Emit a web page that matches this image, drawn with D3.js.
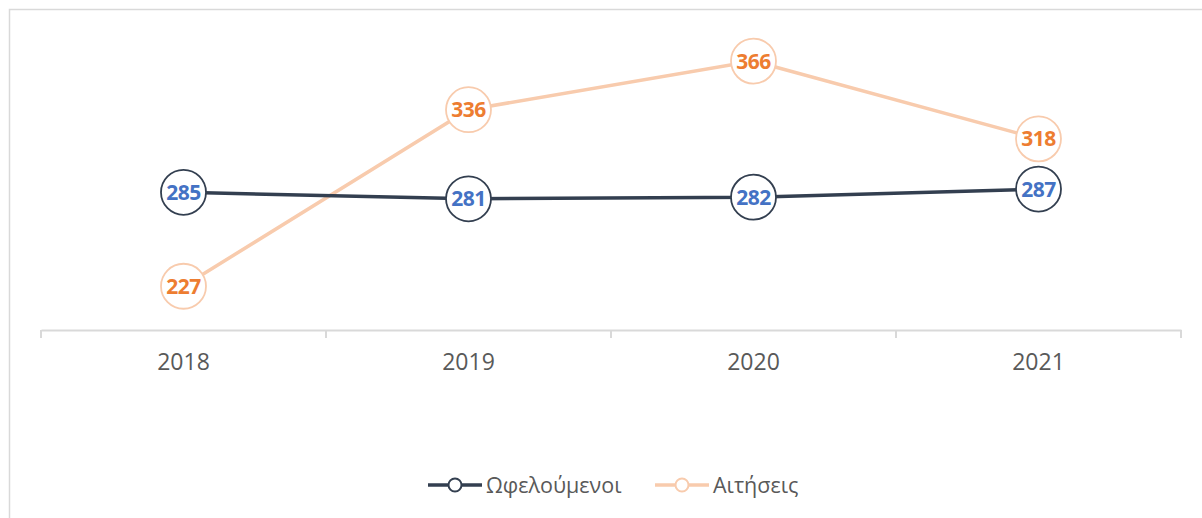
<!DOCTYPE html>
<html>
<head>
<meta charset="utf-8">
<script src="https://cdn.jsdelivr.net/npm/d3@7"></script>
<style>
  body { margin: 0; background: #fff; }
  svg { display: block; }
</style>
</head>
<body>
<div id="chart"></div>
<script>
// data
const years = ["2018", "2019", "2020", "2021"];
const beneficiaries = [285, 281, 282, 287];
const applications = [227, 336, 366, 318];
const seriesNames = ["Ωφελούμενοι", "Αιτήσεις"];

const W = 1202, H = 518;

let svg = d3.select("#chart")
    .append("svg")
    .attr("width", W)
    .attr("height", H);

// chart frame (cropped at right and bottom)
svg.append("rect")
    .attr("x", 9.5)
    .attr("y", 9.5)
    .attr("width", 1205)
    .attr("height", 530)
    .attr("fill", "#fff")
    .attr("stroke", "#d9d9d9")
    .attr("stroke-width", 1.5);

// scales
const x = d3.scaleBand()
    .domain(years)
    .range([41, 1181])
    .paddingInner(0)
    .paddingOuter(0);

const y = d3.scaleLinear()
    .domain([200, 400])
    .range([330, 6]);

// x axis: labels centered in bands, ticks at band edges
let xAxis = svg.append("g")
    .attr("transform", "translate(0,330)")
    .call(d3.axisBottom(x).tickSize(0).tickPadding(24));
xAxis.select(".domain")
    .attr("stroke", "#d9d9d9")
    .attr("stroke-width", 2);
xAxis.selectAll("text")
    .style("font-family", "'Open Sans', sans-serif")
    .style("font-size", "23px")
    .attr("fill", "#595959");

const edges = years.map(d => x(d)).concat([x(years[years.length - 1]) + x.bandwidth()]);
svg.selectAll(".edge-tick")
    .data(edges)
    .enter().append("line")
    .attr("class", "edge-tick")
    .attr("x1", d => d)
    .attr("x2", d => d)
    .attr("y1", 330)
    .attr("y2", 338)
    .attr("stroke", "#d9d9d9")
    .attr("stroke-width", 2);

const series = [
    { name: seriesNames[0], values: beneficiaries, line: "#333f50", label: "#4472c4" },
    { name: seriesNames[1], values: applications, line: "#f8cbad", label: "#ed7d31" }
];

const line = d3.line()
    .x((d, i) => x(years[i]) + x.bandwidth() / 2)
    .y(d => y(d));

// draw applications first so beneficiaries sits on top
[series[1], series[0]].forEach(s => {
    let g = svg.append("g");

    g.append("path")
        .datum(s.values)
        .attr("fill", "none")
        .attr("stroke", s.line)
        .attr("stroke-width", 3.5)
        .attr("d", line);

    g.selectAll("circle")
        .data(s.values)
        .enter().append("circle")
        .attr("cx", (d, i) => x(years[i]) + x.bandwidth() / 2)
        .attr("cy", d => y(d))
        .attr("r", 22.5)
        .attr("fill", "#fff")
        .attr("stroke", s.line)
        .attr("stroke-width", 1.8);

    g.selectAll("text")
        .data(s.values)
        .enter().append("text")
        .attr("x", (d, i) => x(years[i]) + x.bandwidth() / 2)
        .attr("y", d => y(d))
        .attr("dy", "0.36em")
        .attr("text-anchor", "middle")
        .style("font-family", "'Open Sans', sans-serif")
        .style("font-weight", "bold")
        .style("font-size", "21px")
        .style("letter-spacing", "-0.5px")
        .attr("fill", s.label)
        .text(d => d);
});

// legend
const legendX = [428, 655];
let legend = svg.selectAll(".legend")
    .data(series)
    .enter().append("g")
    .attr("class", "legend")
    .attr("transform", (d, i) => "translate(" + legendX[i] + ",485)");

legend.append("line")
    .attr("x1", 0)
    .attr("x2", 54)
    .attr("stroke", d => d.line)
    .attr("stroke-width", 3.5);

legend.append("circle")
    .attr("cx", 27)
    .attr("r", 6.5)
    .attr("fill", "#fff")
    .attr("stroke", d => d.line)
    .attr("stroke-width", 2);

legend.append("text")
    .attr("x", 58)
    .attr("dy", "0.36em")
    .style("font-family", "'Open Sans', sans-serif")
    .style("font-size", "21.5px")
    .attr("fill", "#595959")
    .text(d => d.name);
</script>
</body>
</html>
